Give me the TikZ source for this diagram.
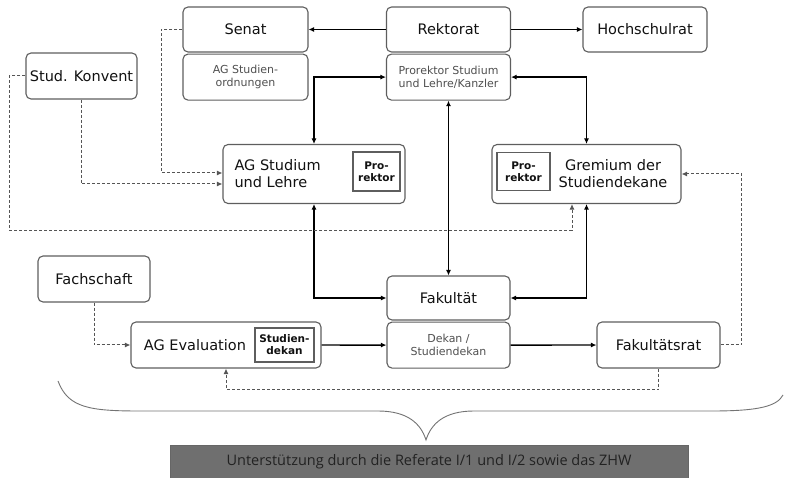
\documentclass[tikz,border=0pt]{standalone}
\usepackage{fontspec}
\setmainfont{DejaVu Sans}
\newfontfamily\barfamily{Open Sans}
\usepackage{tikz}
\usetikzlibrary{arrows.meta,positioning,calc}
\definecolor{frame}{HTML}{5E5E5E}
\definecolor{ink}{HTML}{111111}
\definecolor{soft}{HTML}{505050}
\definecolor{dashgray}{HTML}{555555}
\definecolor{barfill}{HTML}{6F6F6F}
\definecolor{bartext}{HTML}{222222}
\newcommand\orgtitle{\fontsize{14.5}{17}\selectfont}
\newcommand\orgnote{\fontsize{11}{13.5}\selectfont}
\newcommand\orgtag{\fontsize{10.5}{12}\selectfont\bfseries}
\tikzset{
  >={Latex[length=5.5pt,width=5pt]},
  flow/.style={line width=1.4pt,draw=black},
  dashflow/.style={->,draw=dashgray,line width=1pt,dash pattern=on 3pt off 2pt},
  box/.style={rounded corners=5pt,draw=frame,line width=1.1pt,fill=white,align=center,
    inner sep=1pt,font=\orgtitle,text=ink},
  subbox/.style={box,font=\orgnote,text=soft},
  tagbox/.style={draw=frame,line width=1.1pt,fill=white,align=center,inner sep=0pt,
    font=\orgtag,text=ink},
  barbox/.style={draw=black!60,fill=barfill,inner sep=0pt,
    font=\barfamily\fontsize{14.5}{16}\selectfont,text=bartext},
  brace/.style={draw=black!55,line width=0.9pt}
}

\begin{document}
\begin{tikzpicture}[x=1pt,y=-1pt]
  \useasboundingbox (0,0) rectangle (785,478);
  % top row
  \node[box,minimum width=125pt,minimum height=45pt] (senat) at (245.5,29.5) {Senat};
  \node[subbox,minimum width=125pt,minimum height=46pt,below=1pt of senat] (agso) {AG Studien-\\ordnungen};
  \node[box,minimum width=124pt,minimum height=45pt] (rektorat) at (448.5,29.5) {Rektorat};
  \node[subbox,minimum width=124pt,minimum height=46pt,below=1pt of rektorat] (prorektor) {Prorektor Studium\\und Lehre/Kanzler};
  \node[box,minimum width=124pt,minimum height=45pt] (hsr) at (645,29.5) {Hochschulrat};
  \node[box,minimum width=111pt,minimum height=46pt] (konvent) at (81.5,76) {Stud. Konvent};
  % middle row
  \node[box,minimum width=182pt,minimum height=59pt] (agsl) at (314,174) {};
  \node[font=\orgtitle,text=ink,align=left,anchor=west] (agsltxt) at (231,174) {AG Studium\\und Lehre};
  \node[tagbox,minimum width=47pt,minimum height=39pt] (agslpro) at (376.5,171.5) {Pro-\\rektor};
  \node[box,minimum width=189pt,minimum height=59pt] (gremium) at (586.5,174) {};
  \node[tagbox,minimum width=53pt,minimum height=38pt] (grempro) at (523.5,171.5) {Pro-\\rektor};
  \node[font=\orgtitle,text=ink,align=center] (gremtxt) at (613,174) {Gremium der\\Studiendekane};
  % lower rows
  \node[box,minimum width=112pt,minimum height=46pt] (fachschaft) at (94,279) {Fachschaft};
  \node[box,minimum width=123pt,minimum height=44pt] (fakultaet) at (448.5,298) {Fakultät};
  \node[subbox,minimum width=123pt,minimum height=46pt,below=1pt of fakultaet] (dekan) {Dekan /\\Studiendekan};
  \node[box,minimum width=190pt,minimum height=46pt] (ageval) at (226,345) {};
  \node[font=\orgtitle,text=ink] (agevaltxt) at (195,345) {AG Evaluation};
  \node[tagbox,minimum width=59pt,minimum height=34pt] (agevaldek) at (284.5,345) {Studien-\\dekan};
  \node[box,minimum width=123pt,minimum height=46pt] (fakrat) at (658.5,345) {Fakultätsrat};
  % support bar
  \node[barbox,minimum width=518pt,minimum height=33pt] (support) at (429,462) {Unterstützung durch die Referate I/1 und I/2 sowie das ZHW};

  % solid connectors
  \draw[flow,->] (rektorat) -- (senat);
  \draw[flow,->] (rektorat) -- (hsr);
  \draw[flow,<->] (agsl.north) |- (prorektor.west);
  \draw[flow,<->] (prorektor.east) -| (gremium.north);
  \draw[flow,<->] (prorektor.south) -- (fakultaet.north);
  \draw[flow,<->] (agsl.south) |- (fakultaet.west);
  \draw[flow,<->] (gremium.south) |- (fakultaet.east);
  \draw[flow,->] (ageval) -- (dekan);
  \draw[flow,->] (dekan) -- (fakrat);

  % dashed connectors
  \draw[dashflow] (senat.west) -- ++(-21,0) |- ($(agsl.west)+(0,-1)$);
  \draw[dashflow] (konvent.south) |- ($(agsl.west)+(0,10)$);
  \draw[dashflow] (konvent.west) -- ++(-16,0) |- ($(gremium.south)+(-14.5,26)$) -- ($(gremium.south)+(-14.5,0)$);
  \draw[dashflow] (fakrat.east) -- ++(21,0) |- (gremium.east);
  \draw[dashflow] (fakrat.south) -- ++(0,21) -| (ageval.south);
  \draw[dashflow] (fachschaft.south) |- (ageval.west);

  % brace
  \draw[brace] (58,381) .. controls (68,408) and (90,411) .. (140,411) -- (378,411)
    .. controls (408,411) and (421,424) .. (426,440)
    .. controls (431,424) and (444,411) .. (474,411) -- (712,411)
    .. controls (760,411) and (777,406) .. (783,395);
\end{tikzpicture}
\end{document}
